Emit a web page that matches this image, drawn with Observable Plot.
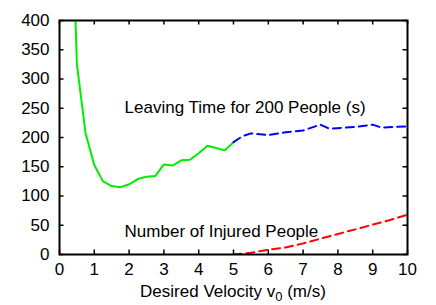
<!DOCTYPE html>
<html><head><meta charset="utf-8">
<script src="https://cdn.jsdelivr.net/npm/d3@7"></script>
<script src="https://cdn.jsdelivr.net/npm/@observablehq/plot@0.6"></script>
<style>body{margin:0;background:#fff}</style>
</head><body><div id="chart"></div>
<script>
// Leaving time (green, v0 <= 5)
const slowX = [0.25, 0.5, 0.75, 1.0, 1.25, 1.5, 1.75, 2.0, 2.25, 2.5, 2.75, 3.0, 3.25, 3.5, 3.75, 4.0, 4.25, 4.5, 4.75, 5.0];
const slowY = [790, 325, 207, 153, 125, 117, 115, 120, 129, 133, 134, 154, 152, 161, 162, 173, 186, 182, 178, 192];
// Leaving time (blue dashed, v0 >= 5)
const fastX = [5.0, 5.25, 5.5, 6.0, 6.5, 7.0, 7.5, 7.75, 8.5, 9.0, 9.25, 10.0];
const fastY = [192, 202, 207, 204, 209, 212, 222, 215, 218, 222, 217, 219];
// Injured people (red dashed)
const injX = [5.0, 5.5, 6.0, 6.5, 7.0, 7.5, 8.0, 8.5, 9.0, 9.5, 10.0];
const injY = [0, 3, 8, 12, 19, 27, 35, 43, 51, 59, 68];
// Annotations
const noteText = ["Leaving Time for 200 People (s)", "Number of Injured People"];
const noteX = [1.87, 1.87];
const noteY = [252, 40];
// Ticks
const xTicks = [0,1,2,3,4,5,6,7,8,9,10];
const yTicks = [0,50,100,150,200,250,300,350,400];

const W = 436, H = 305, ML = 59, MR = 29, MT = 20, MB = 51, TICK = 4.5;
const FW = W - ML - MR, FH = H - MT - MB;
const zip = (xs, ys) => xs.map((x, i) => ({x, y: ys[i]}));

const plot = Plot.plot({
  width: W, height: H,
  marginLeft: ML, marginRight: MR, marginTop: MT, marginBottom: MB,
  style: {fontFamily: "'Liberation Sans', Arial, sans-serif", fontSize: "17px", color: "#000", background: "#fff"},
  x: {domain: [0, 10]},
  y: {domain: [0, 400]},
  marks: [
    Plot.axisX(xTicks, {anchor: "bottom", tickSize: 0, tickPadding: 8, label: null, fontSize: 17}),
    Plot.axisY(yTicks, {anchor: "left", tickSize: 0, tickPadding: 10, label: null, fontSize: 17}),
    Plot.tickX(xTicks, {x: d => d, insetTop: FH - TICK, stroke: "#000", strokeWidth: 1.5}),
    Plot.tickX(xTicks, {x: d => d, insetBottom: FH - TICK, stroke: "#000", strokeWidth: 1.5}),
    Plot.tickY(yTicks, {y: d => d, insetRight: FW - TICK, stroke: "#000", strokeWidth: 1.5}),
    Plot.tickY(yTicks, {y: d => d, insetLeft: FW - TICK, stroke: "#000", strokeWidth: 1.5}),
    Plot.line(zip(slowX, slowY), {x: "x", y: "y", stroke: "#00ee00", strokeWidth: 2, clip: true}),
    Plot.line(zip(fastX, fastY), {x: "x", y: "y", stroke: "#0000ff", strokeWidth: 2, strokeDasharray: "8,5", clip: true}),
    Plot.line(zip(injX, injY), {x: "x", y: "y", stroke: "#ff0000", strokeWidth: 2, strokeDasharray: "8,5", clip: true}),
    Plot.text(noteText.map((t, i) => ({t, x: noteX[i], y: noteY[i]})), {x: "x", y: "y", text: "t", textAnchor: "start", lineAnchor: "middle", fontSize: 17, fill: "#000"}),
    Plot.frame({stroke: "#000", strokeWidth: 2})
  ]
});
document.getElementById("chart").appendChild(plot);

// x-axis title with subscript
const xs = plot.scale("x");
const cx = (xs.apply(0) + xs.apply(10)) / 2;
const t = d3.select(plot).append("text")
  .attr("x", cx).attr("y", 297)
  .attr("text-anchor", "middle")
  .attr("font-size", 17)
  .attr("fill", "#000");
t.append("tspan").text("Desired Velocity v");
t.append("tspan").attr("dy", 4).attr("font-size", 13).text("0");
t.append("tspan").attr("dy", -4).text(" (m/s)");
</script>
</body></html>
